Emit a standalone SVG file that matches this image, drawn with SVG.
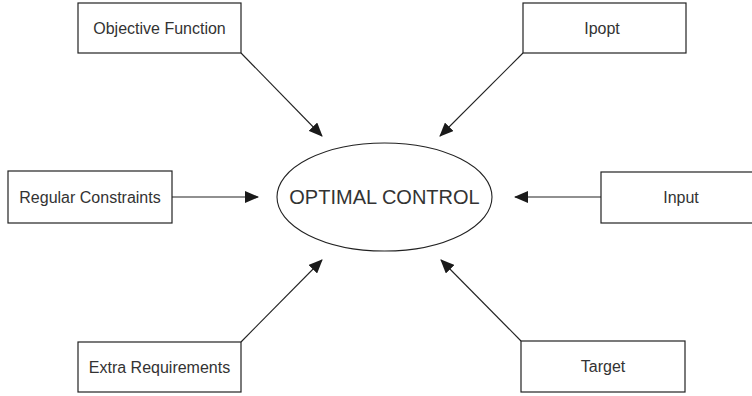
<svg xmlns="http://www.w3.org/2000/svg" width="752" height="396" viewBox="0 0 752 396">
  <style>
    .box { fill: #ffffff; stroke: #222222; stroke-width: 1.2; }
    .lbl { font-family: "Liberation Sans", Arial, sans-serif; font-size: 16px; fill: #333333; text-anchor: middle; }
    .big { font-size: 20px; }
    .edge { stroke: #222222; stroke-width: 1.1; fill: none; marker-end: url(#head); }
  </style>
  <defs>
    <marker id="head" markerWidth="14" markerHeight="12" refX="13" refY="6" orient="auto" markerUnits="userSpaceOnUse">
      <path d="M0,0 L14,6 L0,12 Z" fill="#1a1a1a"/>
    </marker>
  </defs>
  <rect width="752" height="396" fill="#ffffff"/>

  <g id="connectors">
    <line class="edge" x1="241" y1="53" x2="322" y2="136"/>
    <line class="edge" x1="523" y1="53" x2="440" y2="136"/>
    <line class="edge" x1="172" y1="197" x2="258" y2="197"/>
    <line class="edge" x1="601" y1="197" x2="515" y2="197"/>
    <line class="edge" x1="241" y1="342" x2="322" y2="260"/>
    <line class="edge" x1="521" y1="341" x2="441" y2="260"/>
  </g>

  <g id="optimal-control">
    <ellipse cx="384.5" cy="197" rx="107.5" ry="54" fill="#ffffff" stroke="#222222" stroke-width="1.1"/>
    <text class="lbl big" x="384.5" y="203.5">OPTIMAL CONTROL</text>
  </g>

  <g id="objective-function">
    <rect class="box" x="78" y="3" width="163" height="50"/>
    <text class="lbl" x="159.5" y="34">Objective Function</text>
  </g>

  <g id="ipopt">
    <rect class="box" x="523" y="3" width="163" height="50"/>
    <text class="lbl" x="602" y="34">Ipopt</text>
  </g>

  <g id="regular-constraints">
    <rect class="box" x="8" y="171" width="164" height="52"/>
    <text class="lbl" x="90" y="203">Regular Constraints</text>
  </g>

  <g id="input">
    <rect class="box" x="601" y="172" width="164" height="51"/>
    <text class="lbl" x="681" y="203">Input</text>
  </g>

  <g id="extra-requirements">
    <rect class="box" x="78" y="342" width="163" height="50"/>
    <text class="lbl" x="159.5" y="373">Extra Requirements</text>
  </g>

  <g id="target">
    <rect class="box" x="521" y="341" width="164" height="51"/>
    <text class="lbl" x="603" y="372">Target</text>
  </g>
</svg>
